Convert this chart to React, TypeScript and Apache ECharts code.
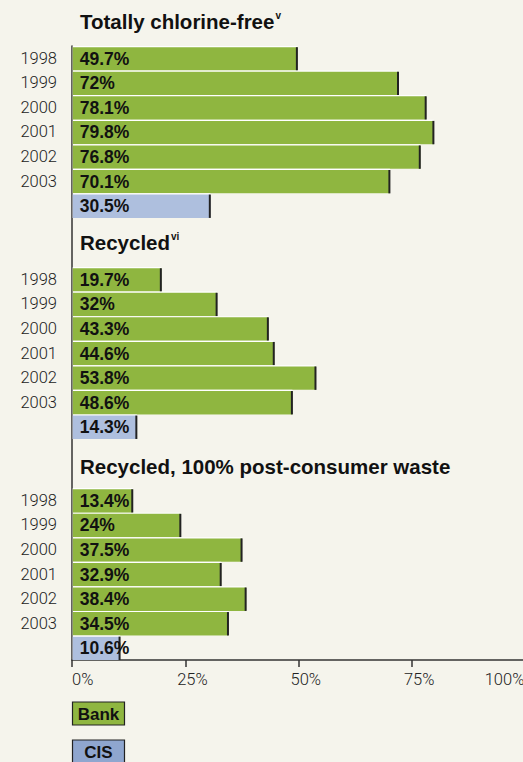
import React, { useEffect, useRef } from "react";
import * as echarts from "echarts";

const years = ["1998", "1999", "2000", "2001", "2002", "2003"];
const sectionTitles = ["Totally chlorine-free", "Recycled", "Recycled, 100% post-consumer waste"];
const sectionNotes = ["v", "vi", ""];
const bankChlorineFree = [49.7, 72, 78.1, 79.8, 76.8, 70.1];
const cisChlorineFree = 30.5;
const bankRecycled = [19.7, 32, 43.3, 44.6, 53.8, 48.6];
const cisRecycled = 14.3;
const bankPostConsumer = [13.4, 24, 37.5, 32.9, 38.4, 34.5];
const cisPostConsumer = 10.6;
const legendNames = ["Bank", "CIS"];

const GREEN = "#8fb640";
const BLUE = "#aebfde";
const BLUE_LEGEND = "#8fa6cf";
const BG = "#f5f4ec";
const FONT = "'Liberation Sans', Arial, sans-serif";
const LIGHT_FONT = "Roboto, 'Liberation Sans', Arial, sans-serif";

export default function App() {
  const ref = useRef<HTMLDivElement>(null);
  useEffect(() => {
    if (!ref.current) return;
    const chart = echarts.init(ref.current, undefined, { renderer: "svg" });

    const sections = [
      { bank: bankChlorineFree, cis: cisChlorineFree },
      { bank: bankRecycled, cis: cisRecycled },
      { bank: bankPostConsumer, cis: cisPostConsumer },
    ];
    const rowLabels: string[] = [];
    const data: any[] = [];
    sections.forEach((s, si) => {
      s.bank.forEach((v, i) => {
        data.push([v, rowLabels.length, 0]);
        rowLabels.push(years[i]);
      });
      data.push([s.cis, rowLabels.length, 1]);
      rowLabels.push("");
      if (si < sections.length - 1) {
        rowLabels.push("");
        rowLabels.push("");
      }
    });
    const rowKeys = rowLabels.map((_, i) => "r" + i);

    const titleY = [21, 242, 466];
    const graphics: any[] = sectionTitles.map((t, i) => ({
      type: "text",
      x: 80,
      y: titleY[i],
      style: {
        text: sectionNotes[i] ? `{t|${t}}{s|${sectionNotes[i]}}` : `{t|${t}}`,
        verticalAlign: "middle",
        rich: {
          t: { font: `bold 20.5px ${FONT}`, fill: "#111" },
          s: { font: `bold 10px ${FONT}`, fill: "#111", padding: [0, 0, 12, 1] },
        },
      },
    }));
    const legendY = [702, 740];
    const legendColors = [GREEN, BLUE_LEGEND];
    legendNames.forEach((n, i) => {
      graphics.push({
        type: "rect",
        shape: { x: 72.5, y: legendY[i], width: 52, height: 23 },
        style: { fill: legendColors[i], stroke: "#222", lineWidth: 1.2 },
      });
      graphics.push({
        type: "text",
        x: 98.5,
        y: legendY[i] + 12.5,
        style: {
          text: n,
          font: `bold 17px ${FONT}`,
          fill: "#111",
          align: "center",
          verticalAlign: "middle",
        },
      });
    });

    chart.setOption({
      animation: false,
      backgroundColor: BG,
      grid: { left: 72, top: 46, width: 453.5, height: 614, containLabel: false },
      xAxis: {
        type: "value",
        min: 0,
        max: 100,
        interval: 25,
        splitLine: { show: false },
        axisLine: { show: true, lineStyle: { color: "#333", width: 1.5 } },
        axisTick: { show: true, length: 7, lineStyle: { color: "#333", width: 1.5 } },
        axisLabel: {
          margin: 11,
          color: "#222",
          fontSize: 16.5,
          fontWeight: 300,
          fontFamily: LIGHT_FONT,
          alignMinLabel: "left",
          formatter: (v: number) =>
            v === 0 ? `{z|${v}%}` : v === 100 ? `{m|${v}%}` : `{n|${v}%}`,
          rich: {
            z: { fontSize: 16.5, fontWeight: 300, fontFamily: LIGHT_FONT, color: "#222" },
            m: { fontSize: 16.5, fontWeight: 300, fontFamily: LIGHT_FONT, color: "#222", padding: [0, 42, 0, 0] },
            n: { fontSize: 16.5, fontWeight: 300, fontFamily: LIGHT_FONT, color: "#222", padding: [0, 0, 0, 14] },
          },
        },
      },
      yAxis: {
        type: "category",
        inverse: true,
        data: rowKeys,
        axisLine: { show: true, lineStyle: { color: "#333", width: 1.5 } },
        axisTick: { show: false },
        axisLabel: {
          margin: 15,
          color: "#222",
          fontSize: 16.5,
          fontWeight: 300,
          fontFamily: LIGHT_FONT,
          interval: 0,
          formatter: (_: string, idx: number) => rowLabels[idx],
        },
      },
      series: [
        {
          type: "custom",
          data,
          encode: { x: 0, y: 1 },
          renderItem: (params: any, api: any) => {
            const v = api.value(0);
            const r = api.value(1);
            const t = api.value(2);
            const p0 = api.coord([0, r]);
            const p1 = api.coord([v, r]);
            const h = api.size([0, 1])[1];
            const x0 = p0[0] + 0.75;
            const x1 = p1[0];
            const yc = p0[1];
            return {
              type: "group",
              children: [
                {
                  type: "rect",
                  shape: { x: x0, y: yc - h / 2, width: x1 - x0, height: h },
                  style: { fill: "#ffffff" },
                },
                {
                  type: "rect",
                  shape: { x: x0, y: yc - h / 2 + 1.2, width: x1 - x0, height: h - 1.2 },
                  style: { fill: t === 0 ? GREEN : BLUE },
                },
                {
                  type: "rect",
                  shape: { x: x1 - 1.5, y: yc - h / 2 + 1.2, width: 2, height: h - 1.2 },
                  style: { fill: "#222" },
                },
                {
                  type: "text",
                  style: {
                    text: `${v}%`,
                    x: x0 + 7,
                    y: yc + 0.5,
                    verticalAlign: "middle",
                    font: `bold 17.5px ${FONT}`,
                    fill: "#111",
                  },
                },
              ],
            };
          },
        },
      ],
      graphic: graphics,
    });
    return () => chart.dispose();
  }, []);
  return (
    <div
      ref={ref}
      style={{ position: "fixed", left: 0, top: 0, width: 540, height: 762 }}
    />
  );
}
